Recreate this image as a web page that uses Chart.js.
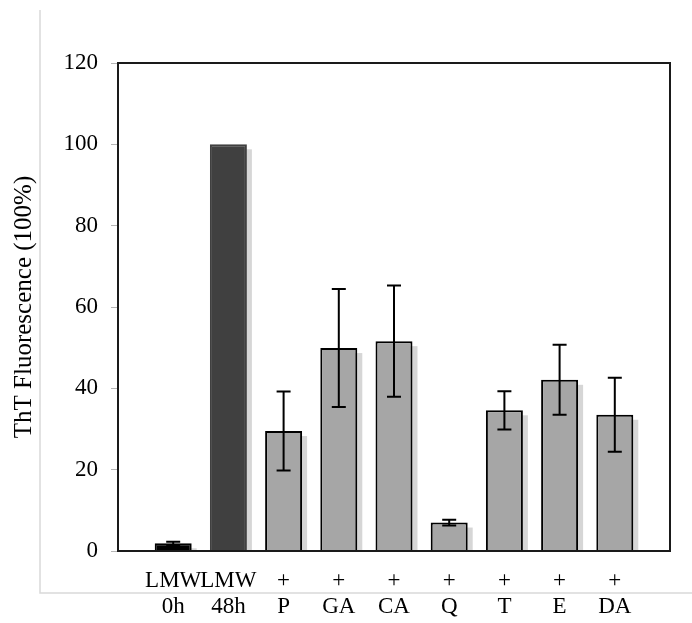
<!DOCTYPE html>
<html>
<head>
<meta charset="utf-8">
<script src="https://cdn.jsdelivr.net/npm/chart.js@4"></script>
<style>
  html, body { margin: 0; padding: 0; background: #fff; }
  #wrap { width: 692px; height: 623px; }
</style>
</head>
<body>
<div id="wrap"><canvas id="thtChart"></canvas></div>
<script>
const categories = [["LMW", "0h"], ["LMW", "48h"], ["+", "P"], ["+", "GA"], ["+", "CA"], ["+", "Q"], ["+", "T"], ["+", "E"], ["+", "DA"]];
const fluorescence = [1.9, 100, 29.5, 49.9, 51.6, 7.0, 34.6, 42.1, 33.5];
const errors = [0.4, 0, 9.7, 14.5, 13.7, 0.7, 4.7, 8.6, 9.1];
const yTicks = [0, 20, 40, 60, 80, 100, 120];

const fillColors = ["#000000", "#404040", "#a6a6a6", "#a6a6a6", "#a6a6a6", "#a6a6a6", "#a6a6a6", "#a6a6a6", "#a6a6a6"];
const edgeColors = ["#000000", "#404040", "#000000", "#000000", "#000000", "#000000", "#000000", "#000000", "#000000"];

// empty slots at both ends so bars sit between the frame edges like the original
const labels = [""].concat(categories, [""]);
const values = [null].concat(fluorescence, [null]);
const errs = [null].concat(errors, [null]);

// light gray L-shaped frame behind everything
const outerFrame = {
    id: "outerFrame",
    beforeDraw(chart) {
        const ctx = chart.ctx;
        ctx.save();
        ctx.strokeStyle = "#d9d9d9";
        ctx.lineWidth = 1.5;
        ctx.beginPath();
        ctx.moveTo(40, 10);
        ctx.lineTo(40, 593);
        ctx.lineTo(692, 593);
        ctx.stroke();
        ctx.restore();
    }
};

// gray offset shadow under the bars, then error bars and frame on top
const barDecor = {
    id: "barDecor",
    beforeDatasetsDraw(chart) {
        const ctx = chart.ctx;
        const a = chart.chartArea;
        ctx.save();
        ctx.beginPath();
        ctx.rect(a.left, a.top, a.right - a.left, a.bottom - a.top);
        ctx.clip();
        ctx.fillStyle = "#d6d6d6";
        chart.getDatasetMeta(0).data.forEach((bar, i) => {
            if (values[i] === null) return;
            const w = bar.width;
            ctx.fillRect(bar.x - w / 2 + 5, bar.y + 5, w, bar.base - bar.y);
        });
        ctx.restore();
    },
    afterDatasetsDraw(chart) {
        const ctx = chart.ctx;
        const meta = chart.getDatasetMeta(0);
        const y = chart.scales.y;
        ctx.save();
        ctx.strokeStyle = "#000";
        ctx.lineWidth = 2;
        meta.data.forEach((bar, i) => {
            const v = values[i], e = errs[i];
            if (v === null || !e) return;
            const top = y.getPixelForValue(v + e);
            const bot = y.getPixelForValue(v - e);
            const x = bar.x;
            ctx.beginPath();
            ctx.moveTo(x, top); ctx.lineTo(x, bot);
            ctx.moveTo(x - 7, top); ctx.lineTo(x + 7, top);
            ctx.moveTo(x - 7, bot); ctx.lineTo(x + 7, bot);
            ctx.stroke();
        });
        // plot frame
        const a = chart.chartArea;
        ctx.strokeStyle = "#1a1a1a";
        ctx.lineWidth = 2;
        ctx.strokeRect(a.left, a.top, a.right - a.left, a.bottom - a.top);
        ctx.restore();
    }
};

new Chart(document.getElementById("thtChart").getContext("2d"), {
    type: "bar",
    data: {
        labels: labels,
        datasets: [{
            data: values,
            backgroundColor: [null].concat(fillColors, [null]),
            borderColor: [null].concat(edgeColors, [null]),
            borderWidth: 2,
            categoryPercentage: 1,
            barPercentage: 0.67,
            clip: 0
        }]
    },
    options: {
        responsive: true,
        maintainAspectRatio: false,
        animation: false,
        layout: { padding: { top: 63, right: 22, left: 0, bottom: 0 } },
        plugins: {
            legend: { display: false },
            tooltip: { enabled: false }
        },
        scales: {
            x: {
                offset: false,
                grid: { display: false },
                border: { display: false },
                ticks: {
                    autoSkip: false,
                    maxRotation: 0,
                    padding: 9,
                    color: "#000",
                    font: { family: "Liberation Serif", size: 23, lineHeight: 1.13 }
                },
                afterFit(s) { s.height = 72; }
            },
            y: {
                min: 0,
                max: 120,
                afterBuildTicks(s) { s.ticks = yTicks.map(v => ({ value: v })); },
                grid: { drawOnChartArea: false, drawTicks: true, tickLength: 7, tickColor: "#b5b5b5" },
                border: { display: false },
                ticks: {
                    padding: 13,
                    color: "#000",
                    font: { family: "Liberation Serif", size: 23 }
                },
                title: {
                    display: true,
                    text: "ThT Fluorescence (100%)",
                    color: "#000",
                    padding: { top: 9, bottom: 0 },
                    font: { family: "Liberation Serif", size: 25, weight: "normal" }
                },
                afterFit(s) { s.width = 118; }
            }
        }
    },
    plugins: [outerFrame, barDecor]
});
</script>
</body>
</html>
